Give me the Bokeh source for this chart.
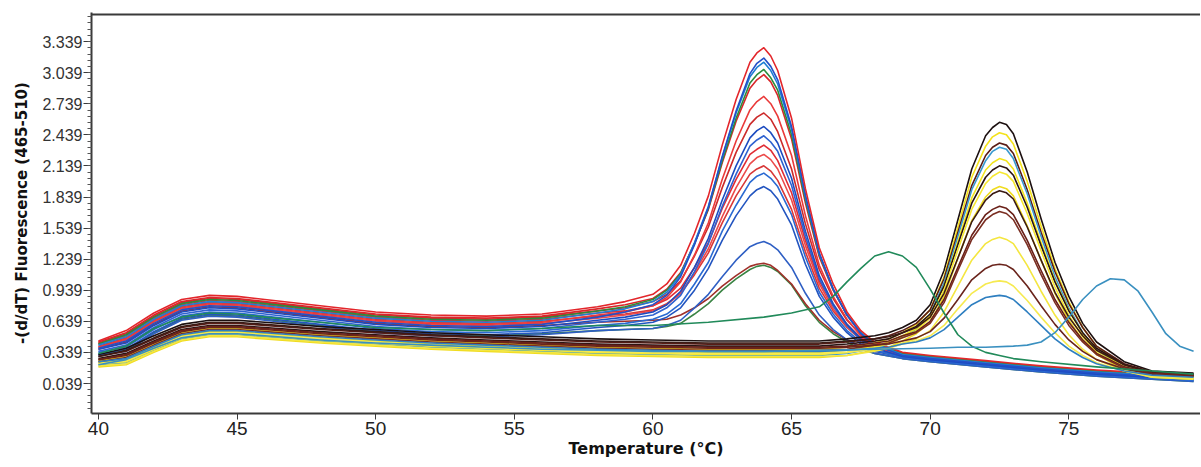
from bokeh.plotting import figure
from bokeh.models import Range1d, FixedTicker, PrintfTickFormatter, Span
from bokeh.embed import file_html
from bokeh.resources import INLINE

# ---------------- data ----------------
TEMP_A = [40, 41, 42, 43, 44, 45, 46, 48, 50, 52, 54, 56, 58, 59, 60, 60.5, 61, 61.5, 62, 62.5,
          63, 63.5, 63.75, 64, 64.25, 64.5, 65, 65.5, 66, 66.5, 67, 67.5, 68, 69, 70, 72, 74, 76, 78, 79.5]
TEMP_B = [40, 41, 42, 43, 44, 45, 46, 48, 50, 52, 54, 56, 58, 60, 62, 64, 66, 67, 68, 68.5,
          69, 69.5, 70, 70.5, 71, 71.5, 72, 72.25, 72.5, 72.75, 73, 73.5, 74, 74.5, 75, 75.5, 76, 77, 78, 79.5]
TEMP_C = [40, 41, 42, 43, 44, 45, 46, 48, 50, 52, 54, 56, 58, 60, 62, 64, 65, 66, 66.5, 67,
          67.5, 68, 68.5, 69, 69.5, 70, 70.5, 71, 71.5, 72, 72.5, 73, 74, 76, 78, 79.5]
TEMP_D = [40, 41, 42, 43, 44, 45, 46, 48, 50, 52, 54, 56, 58, 60, 62, 64, 66, 68, 70, 71,
          72, 73, 73.5, 74, 74.5, 75, 75.5, 76, 76.5, 77, 77.5, 78, 78.5, 79, 79.5]

# peak near 64 degC
A01 = [0.45, 0.55, 0.72, 0.85, 0.89, 0.88, 0.85, 0.79, 0.73, 0.70, 0.69, 0.71, 0.78, 0.83, 0.90, 1.00, 1.18, 1.49, 1.85, 2.34, 2.78, 3.14, 3.23, 3.28, 3.20, 3.06, 2.60, 1.92, 1.35, 1.00, 0.73, 0.55, 0.44, 0.34, 0.31, 0.26, 0.21, 0.17, 0.14, 0.12]
A02 = [0.38, 0.45, 0.62, 0.75, 0.79, 0.78, 0.75, 0.69, 0.63, 0.60, 0.59, 0.61, 0.68, 0.73, 0.80, 0.89, 1.07, 1.38, 1.74, 2.23, 2.67, 3.03, 3.13, 3.18, 3.10, 2.97, 2.52, 1.86, 1.30, 0.95, 0.70, 0.52, 0.41, 0.31, 0.28, 0.23, 0.18, 0.14, 0.11, 0.09]
A03 = [0.41, 0.49, 0.66, 0.79, 0.83, 0.82, 0.79, 0.73, 0.67, 0.64, 0.63, 0.65, 0.72, 0.76, 0.83, 0.92, 1.09, 1.40, 1.75, 2.22, 2.65, 3.00, 3.09, 3.14, 3.06, 2.93, 2.49, 1.84, 1.29, 0.95, 0.70, 0.53, 0.42, 0.32, 0.29, 0.24, 0.19, 0.15, 0.12, 0.10]
A04 = [0.42, 0.51, 0.68, 0.81, 0.85, 0.84, 0.81, 0.75, 0.69, 0.66, 0.65, 0.67, 0.74, 0.78, 0.85, 0.94, 1.10, 1.39, 1.73, 2.19, 2.60, 2.94, 3.02, 3.07, 2.99, 2.87, 2.44, 1.81, 1.28, 0.95, 0.70, 0.53, 0.42, 0.33, 0.30, 0.25, 0.20, 0.16, 0.13, 0.11]
A05 = [0.44, 0.53, 0.70, 0.83, 0.87, 0.86, 0.83, 0.77, 0.71, 0.68, 0.67, 0.69, 0.76, 0.80, 0.86, 0.95, 1.11, 1.39, 1.72, 2.17, 2.57, 2.89, 2.97, 3.02, 2.95, 2.82, 2.40, 1.78, 1.26, 0.94, 0.70, 0.53, 0.43, 0.33, 0.30, 0.25, 0.20, 0.16, 0.13, 0.11]
A06 = [0.39, 0.47, 0.64, 0.77, 0.81, 0.80, 0.77, 0.71, 0.65, 0.62, 0.61, 0.63, 0.70, 0.73, 0.79, 0.87, 1.02, 1.28, 1.59, 2.01, 2.38, 2.68, 2.76, 2.81, 2.74, 2.62, 2.24, 1.66, 1.18, 0.88, 0.66, 0.50, 0.40, 0.32, 0.29, 0.24, 0.19, 0.15, 0.12, 0.10]
A07 = [0.43, 0.52, 0.69, 0.82, 0.86, 0.85, 0.82, 0.76, 0.70, 0.67, 0.66, 0.68, 0.74, 0.77, 0.83, 0.90, 1.03, 1.27, 1.55, 1.93, 2.27, 2.54, 2.61, 2.65, 2.59, 2.47, 2.11, 1.58, 1.14, 0.86, 0.65, 0.51, 0.41, 0.33, 0.30, 0.25, 0.20, 0.16, 0.13, 0.11]
A08 = [0.37, 0.43, 0.60, 0.73, 0.77, 0.76, 0.73, 0.67, 0.61, 0.58, 0.57, 0.59, 0.65, 0.68, 0.73, 0.80, 0.93, 1.16, 1.44, 1.81, 2.14, 2.41, 2.48, 2.52, 2.46, 2.36, 2.02, 1.51, 1.08, 0.81, 0.61, 0.47, 0.38, 0.30, 0.27, 0.22, 0.17, 0.13, 0.10, 0.08]
A09 = [0.35, 0.41, 0.58, 0.71, 0.75, 0.74, 0.71, 0.65, 0.59, 0.56, 0.55, 0.57, 0.63, 0.66, 0.70, 0.77, 0.89, 1.12, 1.39, 1.75, 2.06, 2.33, 2.39, 2.43, 2.37, 2.28, 1.95, 1.46, 1.05, 0.79, 0.60, 0.46, 0.38, 0.30, 0.27, 0.22, 0.17, 0.13, 0.10, 0.08]
A10 = [0.42, 0.50, 0.67, 0.80, 0.84, 0.83, 0.80, 0.74, 0.68, 0.65, 0.64, 0.66, 0.72, 0.74, 0.79, 0.85, 0.96, 1.16, 1.40, 1.73, 2.01, 2.25, 2.30, 2.34, 2.29, 2.19, 1.88, 1.42, 1.03, 0.79, 0.61, 0.48, 0.40, 0.33, 0.30, 0.25, 0.20, 0.16, 0.13, 0.11]
A11 = [0.39, 0.46, 0.63, 0.76, 0.80, 0.79, 0.76, 0.70, 0.64, 0.61, 0.60, 0.62, 0.67, 0.70, 0.74, 0.80, 0.91, 1.11, 1.34, 1.65, 1.93, 2.16, 2.22, 2.25, 2.20, 2.11, 1.81, 1.37, 1.00, 0.76, 0.59, 0.47, 0.39, 0.31, 0.28, 0.23, 0.18, 0.14, 0.11, 0.09]
A12 = [0.40, 0.48, 0.65, 0.78, 0.82, 0.81, 0.78, 0.72, 0.66, 0.63, 0.62, 0.64, 0.69, 0.71, 0.75, 0.81, 0.91, 1.09, 1.30, 1.59, 1.85, 2.06, 2.11, 2.14, 2.09, 2.00, 1.72, 1.31, 0.96, 0.74, 0.58, 0.46, 0.39, 0.32, 0.29, 0.24, 0.19, 0.15, 0.12, 0.10]
A13 = [0.34, 0.39, 0.56, 0.69, 0.73, 0.72, 0.69, 0.63, 0.57, 0.54, 0.53, 0.55, 0.60, 0.62, 0.66, 0.71, 0.81, 1.00, 1.21, 1.51, 1.76, 1.98, 2.04, 2.07, 2.02, 1.94, 1.67, 1.26, 0.92, 0.71, 0.55, 0.44, 0.36, 0.29, 0.26, 0.21, 0.16, 0.12, 0.09, 0.07]
A14 = [0.32, 0.37, 0.54, 0.67, 0.71, 0.70, 0.67, 0.61, 0.55, 0.52, 0.51, 0.53, 0.58, 0.60, 0.63, 0.68, 0.77, 0.94, 1.15, 1.42, 1.66, 1.85, 1.91, 1.94, 1.90, 1.82, 1.57, 1.19, 0.88, 0.68, 0.53, 0.42, 0.35, 0.29, 0.26, 0.21, 0.16, 0.12, 0.09, 0.07]
A15 = [0.31, 0.35, 0.52, 0.65, 0.69, 0.68, 0.65, 0.59, 0.53, 0.50, 0.49, 0.51, 0.55, 0.56, 0.57, 0.60, 0.65, 0.77, 0.90, 1.07, 1.23, 1.36, 1.39, 1.41, 1.38, 1.33, 1.16, 0.91, 0.70, 0.56, 0.46, 0.39, 0.33, 0.28, 0.25, 0.20, 0.15, 0.11, 0.08, 0.06]
A16 = [0.37, 0.44, 0.61, 0.74, 0.78, 0.77, 0.74, 0.68, 0.62, 0.59, 0.58, 0.60, 0.63, 0.64, 0.65, 0.66, 0.70, 0.77, 0.86, 0.98, 1.08, 1.17, 1.19, 1.20, 1.18, 1.13, 1.00, 0.81, 0.65, 0.54, 0.46, 0.40, 0.35, 0.31, 0.28, 0.23, 0.18, 0.14, 0.11, 0.09]
A17 = [0.32, 0.36, 0.53, 0.66, 0.70, 0.69, 0.66, 0.60, 0.54, 0.51, 0.50, 0.52, 0.55, 0.56, 0.57, 0.59, 0.62, 0.71, 0.81, 0.94, 1.05, 1.14, 1.17, 1.18, 1.16, 1.12, 0.99, 0.79, 0.63, 0.52, 0.44, 0.37, 0.33, 0.28, 0.25, 0.20, 0.15, 0.11, 0.08, 0.06]

# peak near 72.6 degC
B01 = [0.32, 0.38, 0.50, 0.61, 0.65, 0.65, 0.63, 0.59, 0.56, 0.53, 0.51, 0.49, 0.47, 0.46, 0.45, 0.45, 0.45, 0.47, 0.50, 0.53, 0.58, 0.65, 0.80, 1.13, 1.62, 2.11, 2.43, 2.51, 2.56, 2.54, 2.45, 2.08, 1.63, 1.21, 0.88, 0.62, 0.44, 0.25, 0.16, 0.14]
B02 = [0.26, 0.30, 0.42, 0.53, 0.57, 0.57, 0.55, 0.51, 0.48, 0.45, 0.43, 0.41, 0.39, 0.38, 0.37, 0.37, 0.37, 0.39, 0.43, 0.47, 0.53, 0.61, 0.75, 1.07, 1.55, 2.03, 2.33, 2.42, 2.46, 2.44, 2.35, 1.99, 1.56, 1.15, 0.83, 0.58, 0.40, 0.22, 0.13, 0.11]
B03 = [0.30, 0.35, 0.47, 0.58, 0.62, 0.62, 0.60, 0.56, 0.53, 0.50, 0.48, 0.46, 0.44, 0.43, 0.42, 0.42, 0.42, 0.44, 0.47, 0.50, 0.55, 0.62, 0.75, 1.05, 1.50, 1.95, 2.24, 2.32, 2.36, 2.34, 2.26, 1.91, 1.50, 1.12, 0.81, 0.58, 0.40, 0.23, 0.15, 0.13]
B04 = [0.22, 0.24, 0.36, 0.47, 0.51, 0.51, 0.49, 0.45, 0.42, 0.39, 0.37, 0.35, 0.33, 0.32, 0.31, 0.31, 0.31, 0.33, 0.38, 0.42, 0.49, 0.56, 0.71, 1.01, 1.46, 1.91, 2.19, 2.28, 2.32, 2.30, 2.21, 1.87, 1.46, 1.07, 0.77, 0.53, 0.36, 0.19, 0.11, 0.09]
B05 = [0.24, 0.27, 0.39, 0.50, 0.54, 0.54, 0.52, 0.48, 0.45, 0.42, 0.40, 0.38, 0.36, 0.35, 0.34, 0.34, 0.34, 0.36, 0.40, 0.44, 0.50, 0.57, 0.70, 0.98, 1.41, 1.83, 2.10, 2.17, 2.21, 2.19, 2.11, 1.78, 1.40, 1.03, 0.75, 0.52, 0.36, 0.20, 0.12, 0.10]
B06 = [0.28, 0.33, 0.45, 0.56, 0.60, 0.60, 0.58, 0.54, 0.51, 0.48, 0.46, 0.44, 0.42, 0.41, 0.40, 0.40, 0.40, 0.42, 0.45, 0.47, 0.53, 0.59, 0.71, 0.98, 1.38, 1.78, 2.03, 2.10, 2.14, 2.12, 2.05, 1.74, 1.37, 1.02, 0.74, 0.53, 0.38, 0.22, 0.14, 0.12]
B07 = [0.23, 0.25, 0.37, 0.48, 0.52, 0.52, 0.50, 0.46, 0.43, 0.40, 0.38, 0.36, 0.34, 0.33, 0.32, 0.32, 0.32, 0.34, 0.39, 0.42, 0.48, 0.55, 0.67, 0.94, 1.33, 1.72, 1.97, 2.04, 2.08, 2.06, 1.99, 1.68, 1.32, 0.97, 0.70, 0.49, 0.34, 0.18, 0.11, 0.09]
B08 = [0.20, 0.22, 0.34, 0.45, 0.49, 0.49, 0.47, 0.43, 0.40, 0.37, 0.35, 0.33, 0.31, 0.30, 0.29, 0.29, 0.29, 0.31, 0.36, 0.39, 0.45, 0.52, 0.63, 0.88, 1.25, 1.61, 1.84, 1.91, 1.94, 1.92, 1.85, 1.56, 1.23, 0.91, 0.65, 0.46, 0.32, 0.17, 0.10, 0.08]
B09 = [0.30, 0.36, 0.48, 0.59, 0.63, 0.63, 0.61, 0.57, 0.54, 0.51, 0.49, 0.47, 0.45, 0.44, 0.43, 0.43, 0.43, 0.45, 0.47, 0.49, 0.53, 0.58, 0.68, 0.91, 1.25, 1.60, 1.81, 1.87, 1.90, 1.88, 1.82, 1.55, 1.23, 0.92, 0.68, 0.50, 0.36, 0.22, 0.15, 0.13]
B10 = [0.27, 0.32, 0.44, 0.55, 0.59, 0.59, 0.57, 0.53, 0.50, 0.47, 0.45, 0.43, 0.41, 0.40, 0.39, 0.39, 0.39, 0.40, 0.43, 0.45, 0.50, 0.54, 0.64, 0.85, 1.16, 1.47, 1.67, 1.72, 1.75, 1.73, 1.67, 1.42, 1.13, 0.85, 0.63, 0.46, 0.33, 0.20, 0.14, 0.12]
B11 = [0.25, 0.29, 0.41, 0.52, 0.56, 0.56, 0.54, 0.50, 0.47, 0.44, 0.42, 0.40, 0.38, 0.37, 0.36, 0.36, 0.36, 0.37, 0.41, 0.43, 0.48, 0.53, 0.62, 0.82, 1.13, 1.43, 1.62, 1.67, 1.70, 1.68, 1.62, 1.38, 1.09, 0.82, 0.60, 0.44, 0.32, 0.19, 0.13, 0.11]
B12 = [0.21, 0.23, 0.35, 0.46, 0.50, 0.50, 0.48, 0.44, 0.41, 0.38, 0.36, 0.34, 0.32, 0.31, 0.30, 0.30, 0.30, 0.31, 0.35, 0.38, 0.43, 0.47, 0.55, 0.73, 0.98, 1.23, 1.39, 1.43, 1.45, 1.43, 1.39, 1.18, 0.93, 0.70, 0.51, 0.37, 0.27, 0.16, 0.10, 0.08]
B13 = [0.27, 0.31, 0.43, 0.54, 0.58, 0.58, 0.56, 0.52, 0.49, 0.46, 0.44, 0.42, 0.40, 0.39, 0.38, 0.38, 0.38, 0.39, 0.41, 0.42, 0.45, 0.48, 0.54, 0.67, 0.85, 1.04, 1.15, 1.18, 1.19, 1.18, 1.14, 0.98, 0.79, 0.61, 0.46, 0.35, 0.27, 0.18, 0.13, 0.11]
B14 = [0.23, 0.26, 0.38, 0.49, 0.53, 0.53, 0.51, 0.47, 0.44, 0.41, 0.39, 0.37, 0.35, 0.34, 0.33, 0.33, 0.33, 0.34, 0.37, 0.38, 0.42, 0.45, 0.50, 0.60, 0.76, 0.91, 1.00, 1.02, 1.03, 1.02, 0.98, 0.84, 0.68, 0.53, 0.40, 0.31, 0.24, 0.16, 0.11, 0.09]
B15 = [0.25, 0.28, 0.40, 0.51, 0.55, 0.55, 0.53, 0.49, 0.46, 0.43, 0.41, 0.39, 0.37, 0.36, 0.35, 0.35, 0.35, 0.36, 0.38, 0.39, 0.42, 0.44, 0.48, 0.56, 0.68, 0.80, 0.87, 0.88, 0.89, 0.88, 0.85, 0.73, 0.60, 0.47, 0.37, 0.29, 0.23, 0.16, 0.12, 0.10]

# single curves
C01 = [0.33, 0.40, 0.57, 0.68, 0.72, 0.71, 0.68, 0.63, 0.58, 0.56, 0.55, 0.57, 0.60, 0.60, 0.63, 0.68, 0.72, 0.78, 0.88, 1.02, 1.15, 1.27, 1.31, 1.27, 1.16, 0.95, 0.72, 0.51, 0.40, 0.34, 0.31, 0.28, 0.25, 0.20, 0.16, 0.13]
D01 = [0.22, 0.27, 0.38, 0.48, 0.52, 0.52, 0.50, 0.46, 0.43, 0.41, 0.39, 0.37, 0.36, 0.35, 0.35, 0.35, 0.36, 0.37, 0.38, 0.39, 0.39, 0.40, 0.41, 0.44, 0.53, 0.68, 0.85, 0.98, 1.05, 1.04, 0.93, 0.73, 0.52, 0.40, 0.35]

GROUP_A = [A01, A02, A03, A04, A05, A06, A07, A08, A09, A10, A11, A12, A13, A14, A15, A16, A17]
GROUP_B = [B01, B02, B03, B04, B05, B06, B07, B08, B09, B10, B11, B12, B13, B14, B15]
COLORS_A = ["#e3262b", "#2350c8", "#1f7fd4", "#2c8c3c", "#d9262a", "#ea3a3a", "#cc2a2a", "#1d4cc0",
            "#2f62d0", "#e02c34", "#ec4a4a", "#d83838", "#2a6ad2", "#2355c0", "#2f5fc4", "#a0302a", "#3a8444"]
COLORS_B = ["#1c1010", "#f4e21c", "#5a1c16", "#3a9ad0", "#f2e41e", "#2a1412", "#f6e830", "#f0dc20",
            "#3a1a14", "#6a2018", "#7a2e22", "#f4e640", "#6a241c", "#f6ea50", "#2f7fc0"]
COLOR_C = "#218a5a"
COLOR_D = "#3a90c0"

X_TICKS = [40, 45, 50, 55, 60, 65, 70, 75]
Y_TICKS = [0.039, 0.339, 0.639, 0.939, 1.239, 1.539, 1.839, 2.139, 2.439, 2.739, 3.039, 3.339]
Y_MINOR = [round(-0.201 + 0.06 * i, 3) for i in range(64)]

X_TITLE = "Temperature (°C)"
Y_TITLE = "-(d/dT) Fluorescence (465-510)"

# ---------------- figure ----------------
p = figure(width=1200, height=463, output_backend="svg", toolbar_location=None,
           x_range=Range1d(39.75, 79.75), y_range=Range1d(-0.25, 3.62),
           min_border_left=91, min_border_right=0, min_border_top=12, min_border_bottom=50)
p.grid.visible = False
p.outline_line_color = None
p.background_fill_color = "white"

for vals, col in reversed(list(zip(GROUP_A, COLORS_A))):
    p.line(TEMP_A, vals, line_color=col, line_width=1.6, line_join="round")
for vals, col in zip(GROUP_B, COLORS_B):
    p.line(TEMP_B, vals, line_color=col, line_width=1.6, line_join="round")
p.line(TEMP_C, C01, line_color=COLOR_C, line_width=1.6, line_join="round")
p.line(TEMP_D, D01, line_color=COLOR_D, line_width=1.6, line_join="round")

p.add_layout(Span(location=3.60, dimension="width", line_color="#3a3a3a", line_width=2))

ax = p.xaxis[0]
ax.ticker = FixedTicker(ticks=X_TICKS)
ax.axis_line_color = "#3a3a3a"
ax.axis_line_width = 2
ax.major_tick_out = 6
ax.major_tick_in = 0
ax.major_tick_line_color = "#3a3a3a"
ax.minor_tick_line_color = None
ax.major_label_text_font = "Liberation Sans"
ax.major_label_text_font_size = "19px"
ax.major_label_text_color = "#222222"
ax.major_label_standoff = 2
ax.axis_label = X_TITLE
ax.axis_label_text_font = "DejaVu Sans"
ax.axis_label_text_font_style = "bold"
ax.axis_label_text_font_size = "16px"
ax.axis_label_text_color = "#111111"
ax.axis_label_standoff = 1

ay = p.yaxis[0]
ay.ticker = FixedTicker(ticks=Y_TICKS, minor_ticks=Y_MINOR)
ay.formatter = PrintfTickFormatter(format="%.3f")
ay.axis_line_color = "#3a3a3a"
ay.axis_line_width = 2
ay.major_tick_out = 8
ay.major_tick_in = 0
ay.minor_tick_out = 4
ay.minor_tick_in = 0
ay.major_tick_line_color = "#3a3a3a"
ay.minor_tick_line_color = "#555555"
ay.major_label_text_font = "Liberation Sans"
ay.major_label_text_font_size = "16px"
ay.major_label_text_color = "#333333"
ay.major_label_standoff = 1
ay.axis_label = Y_TITLE
ay.axis_label_text_font = "DejaVu Sans"
ay.axis_label_text_font_style = "bold"
ay.axis_label_text_font_size = "15px"
ay.axis_label_text_color = "#111111"
ay.axis_label_standoff = 8

open("out.html", "w").write(file_html(p, INLINE))
